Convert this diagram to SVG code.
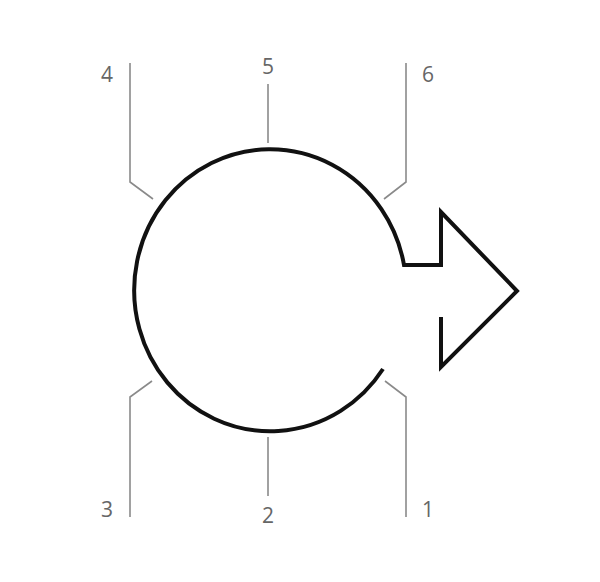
<svg xmlns="http://www.w3.org/2000/svg" width="600" height="582" viewBox="0 0 600 582">
<style>
.lead{fill:none;stroke:#8a8a8a;stroke-width:1.6}
.lbl{font-family:"Open Sans","Liberation Sans",sans-serif;font-size:21px;fill:#666;text-anchor:middle}
.main{fill:none;stroke:#111;stroke-width:4;stroke-linejoin:miter}
</style>
<rect width="600" height="582" fill="#fff"/>
<g id="cycle-arrow">
<path class="main" d="M383,369 A136,141 0 1 1 404,265 L441,265 L441,212 L517,291 L441,367 L441,317"/>
</g>
<g id="connectors">
<path class="lead" d="M130,63 V182 L153,199"/>
<path class="lead" d="M268,84 V143"/>
<path class="lead" d="M406,63 V182 L384,199"/>
<path class="lead" d="M152,381 L130,397 V517"/>
<path class="lead" d="M268,437 V496"/>
<path class="lead" d="M385,381 L406,397 V517"/>
</g>
<g id="label-4"><text class="lbl" x="107" y="82">4</text></g>
<g id="label-5"><text class="lbl" x="268" y="74">5</text></g>
<g id="label-6"><text class="lbl" x="428" y="82">6</text></g>
<g id="label-3"><text class="lbl" x="107" y="517">3</text></g>
<g id="label-2"><text class="lbl" x="268" y="523">2</text></g>
<g id="label-1"><text class="lbl" x="428" y="517">1</text></g>
</svg>
